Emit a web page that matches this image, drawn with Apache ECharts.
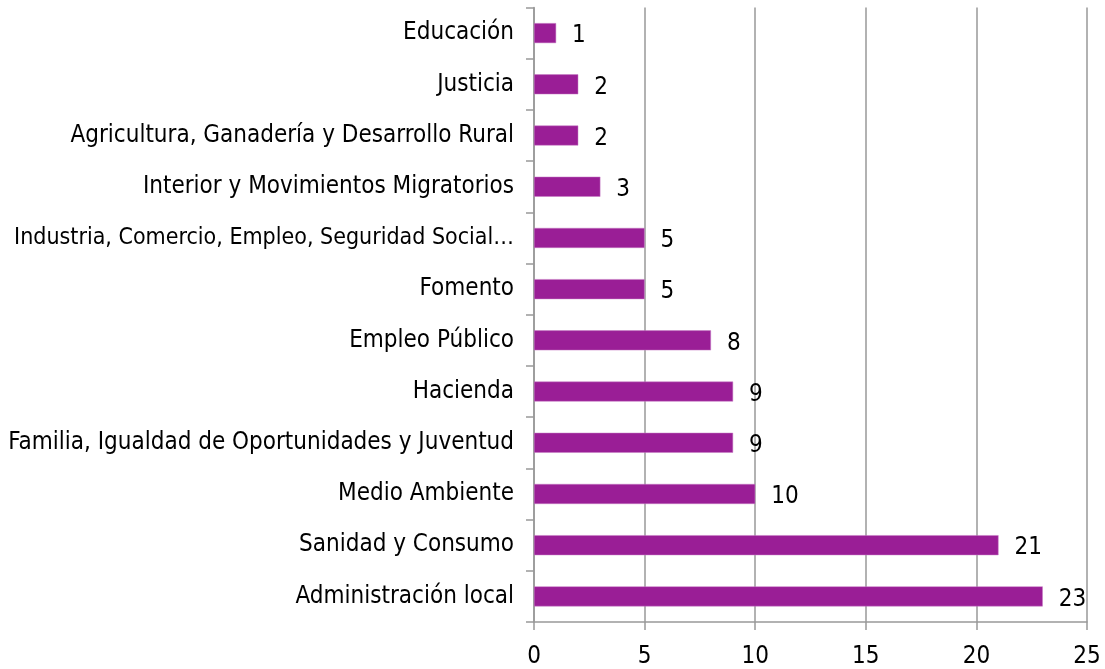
<!DOCTYPE html>
<html>
<head>
<meta charset="utf-8">
<script src="https://cdn.jsdelivr.net/npm/echarts@6/dist/echarts.min.js"></script>
<style>
  html, body { margin: 0; padding: 0; background: #fff; }
  #barChart { width: 1105px; height: 669px; }
</style>
</head>
<body>
<div id="barChart"></div>
<script>
// categories bottom -> top
var categories = [
	'Administración local',
	'Sanidad y Consumo',
	'Medio Ambiente',
	'Familia, Igualdad de Oportunidades y Juventud',
	'Hacienda',
	'Empleo Público',
	'Fomento',
	'Industria, Comercio, Empleo, Seguridad Social…',
	'Interior y Movimientos Migratorios',
	'Agricultura, Ganadería y Desarrollo Rural',
	'Justicia',
	'Educación'
];
var values = [23, 21, 10, 9, 9, 8, 5, 5, 3, 2, 2, 1];
var xTicks = [0, 5, 10, 15, 20, 25];

var chartDom = document.getElementById('barChart');
var myChart = echarts.init(chartDom, null, { devicePixelRatio: 1 });
var font = '"DejaVu Sans Condensed", "DejaVu Sans", sans-serif';

// the long truncated label is a bit wider than the others, shrink it slightly
var yData = categories.map(function (c) {
	if (c.length > 45) {
		return { value: c, textStyle: { fontSize: 23 } };
	}
	return c;
});

var option = {
	animation: false,
	grid: {
		left: 534,
		right: 18,
		top: 7.5,
		bottom: 47,
		containLabel: false,
		outerBoundsMode: 'none'
	},
	xAxis: {
		type: 'value',
		min: xTicks[0],
		max: xTicks[xTicks.length - 1],
		interval: 5,
		axisLine: { show: true, lineStyle: { color: '#999', width: 1.5 } },
		axisTick: { show: true, length: 8, lineStyle: { color: '#999', width: 1.5 } },
		axisLabel: { color: '#000', fontSize: 24, fontFamily: font, margin: 23 },
		splitLine: { show: true, lineStyle: { color: '#999', width: 1.5 } }
	},
	yAxis: {
		type: 'category',
		data: yData,
		axisLine: { show: true, lineStyle: { color: '#999', width: 1.5 } },
		axisTick: { show: true, length: 8, alignWithLabel: false, lineStyle: { color: '#999', width: 1.5 } },
		axisLabel: { color: '#000', fontSize: 24, fontFamily: font, margin: 20, padding: [6, 0, 0, 0] }
	},
	series: [
		{
			type: 'bar',
			data: values,
			barWidth: 20,
			itemStyle: { color: '#9a1e96', borderColor: '#c77cc4', borderWidth: 0.5 },
			label: {
				show: true,
				position: 'right',
				distance: 16,
				offset: [0, 3],
				color: '#000',
				fontSize: 24,
				fontFamily: font
			}
		}
	]
};
myChart.setOption(option);
</script>
</body>
</html>
